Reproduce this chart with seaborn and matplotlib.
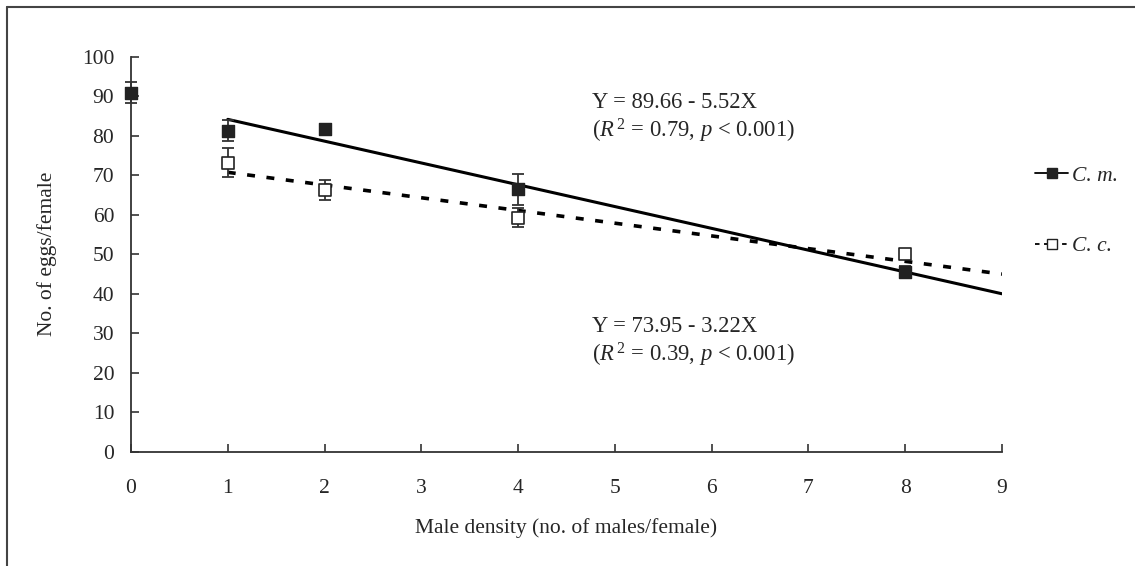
import matplotlib
matplotlib.use("Agg")
import matplotlib.pyplot as plt
from matplotlib.lines import Line2D
import seaborn as sns
import pandas as pd
import numpy as np

# ---- data ----
density = [0, 1, 2, 4, 8]
cm_eggs = [90.9, 81.3, 81.7, 66.4, 45.6]
cm_err = [2.6, 2.7, 0.5, 3.9, 1.5]
cc_density = [1, 2, 4, 8]
cc_eggs = [73.2, 66.3, 59.2, 50.0]
cc_err = [3.6, 2.5, 2.4, 1.2]
species = ["C. m.", "C. c."]
intercepts = [89.66, 73.95]
slopes = [-5.52, -3.22]
fit_range = [1, 9]
eq_texts = ["Y = 89.66 - 5.52X", "Y = 73.95 - 3.22X"]
stat_texts = [r"($\mathit{R}^{\,2}$ = 0.79, $\mathit{p}$ < 0.001)",
              r"($\mathit{R}^{\,2}$ = 0.39, $\mathit{p}$ < 0.001)"]
x_ticks = list(range(0, 10))
y_ticks = list(range(0, 101, 10))

sns.set_style("white")
plt.rcParams["font.family"] = ["Liberation Serif", "DejaVu Serif"]
plt.rcParams["mathtext.fontset"] = "custom"
plt.rcParams["mathtext.rm"] = "Liberation Serif"
plt.rcParams["mathtext.it"] = "Liberation Serif:italic"
plt.rcParams["mathtext.bf"] = "Liberation Serif:bold"

FS = 15.5

fig = plt.figure(figsize=(11.35, 5.66), dpi=100)
ax = fig.add_axes([131/1135, 1-451.7/566, 871/1135, 395/566])

dark = "#222222"
# regression lines
styles = ["-", (0, (2.2, 3.2))]
for i in range(2):
    xs = np.array(fit_range, dtype=float)
    ys = intercepts[i] + slopes[i] * xs
    line_df = pd.DataFrame({"x": xs, "y": ys})
    sns.lineplot(data=line_df, x="x", y="y", ax=ax, color="black",
                 linewidth=2.2 if i == 0 else 2.6, linestyle=styles[i], legend=False)

# error bars
for xs_, ys_, es_ in [(density, cm_eggs, cm_err), (cc_density, cc_eggs, cc_err)]:
    eb = ax.errorbar(xs_, ys_, yerr=es_, fmt="none", ecolor="#333333",
                     elinewidth=1.3, capsize=4.5, capthick=1.3, zorder=3)
    for art in eb.get_children():
        art.set_clip_on(False)

cm_df = pd.DataFrame({"x": density, "y": cm_eggs})
cc_df = pd.DataFrame({"x": cc_density, "y": cc_eggs})
sns.scatterplot(data=cm_df, x="x", y="y", ax=ax, marker="s", s=75,
                color=dark, edgecolor=dark, linewidth=1, zorder=4, legend=False,
                clip_on=False)
sns.scatterplot(data=cc_df, x="x", y="y", ax=ax, marker="s", s=65,
                facecolor="white", edgecolor=dark, linewidth=1.2, zorder=4, legend=False,
                clip_on=False)

ax.set_xlim(0, 9)
ax.set_ylim(0, 100)
ax.set_xticks(x_ticks)
ax.set_yticks(y_ticks)
ax.set_xticklabels([str(t) for t in x_ticks])
ax.set_yticklabels([str(t) for t in y_ticks])
for s in ["top", "right"]:
    ax.spines[s].set_visible(False)
for s in ["left", "bottom"]:
    ax.spines[s].set_linewidth(1.3)
    ax.spines[s].set_color("#333333")
ax.tick_params(axis="x", direction="in", length=6, width=1.2, pad=20,
               labelsize=FS, color="#333333", bottom=True)
ax.tick_params(axis="y", direction="in", length=5.5, width=1.2, pad=12,
               labelsize=FS, color="#333333", left=True)
ax.set_xlabel("Male density (no. of males/female)", fontsize=FS)
ax.set_ylabel("No. of eggs/female", fontsize=FS)
ax.xaxis.set_label_coords(0.5, -0.168)
ax.yaxis.set_label_coords(-0.085, 0.5)

# equations
eq_pos = [(4.76, 88.3), (4.76, 31.6)]
for i in range(2):
    ax.text(eq_pos[i][0], eq_pos[i][1], eq_texts[i], fontsize=FS + 0.8, va="center", ha="left")
    ax.text(eq_pos[i][0], eq_pos[i][1] - 7.1, stat_texts[i], fontsize=FS + 0.8, va="center", ha="left")

handles = [
    Line2D([0], [0], color="black", linestyle="-", linewidth=1.3, marker="s",
           markersize=7, markerfacecolor=dark, markeredgecolor=dark),
    Line2D([0], [0], color="black", linestyle=(0, (2.5, 2.5)), linewidth=1.3, marker="s",
           markersize=7, markerfacecolor="white", markeredgecolor=dark),
]
leg = fig.legend(handles, species, loc="center left", bbox_to_anchor=(1035/1135, 1-211/566),
                 frameon=False, numpoints=1, handlelength=1.55, handletextpad=0.15,
                 borderpad=0, borderaxespad=0,
                 labelspacing=2.35, prop={"family": "Liberation Serif", "style": "italic", "size": FS})

# figure border (left & top)
fig.add_artist(Line2D([7/1135, 7/1135], [0, 1-7/566], color="#444444", linewidth=1.5,
                      transform=fig.transFigure))
fig.add_artist(Line2D([7/1135, 1], [1-7/566, 1-7/566], color="#444444", linewidth=1.5,
                      transform=fig.transFigure))

fig.savefig("out.png", dpi=100)
